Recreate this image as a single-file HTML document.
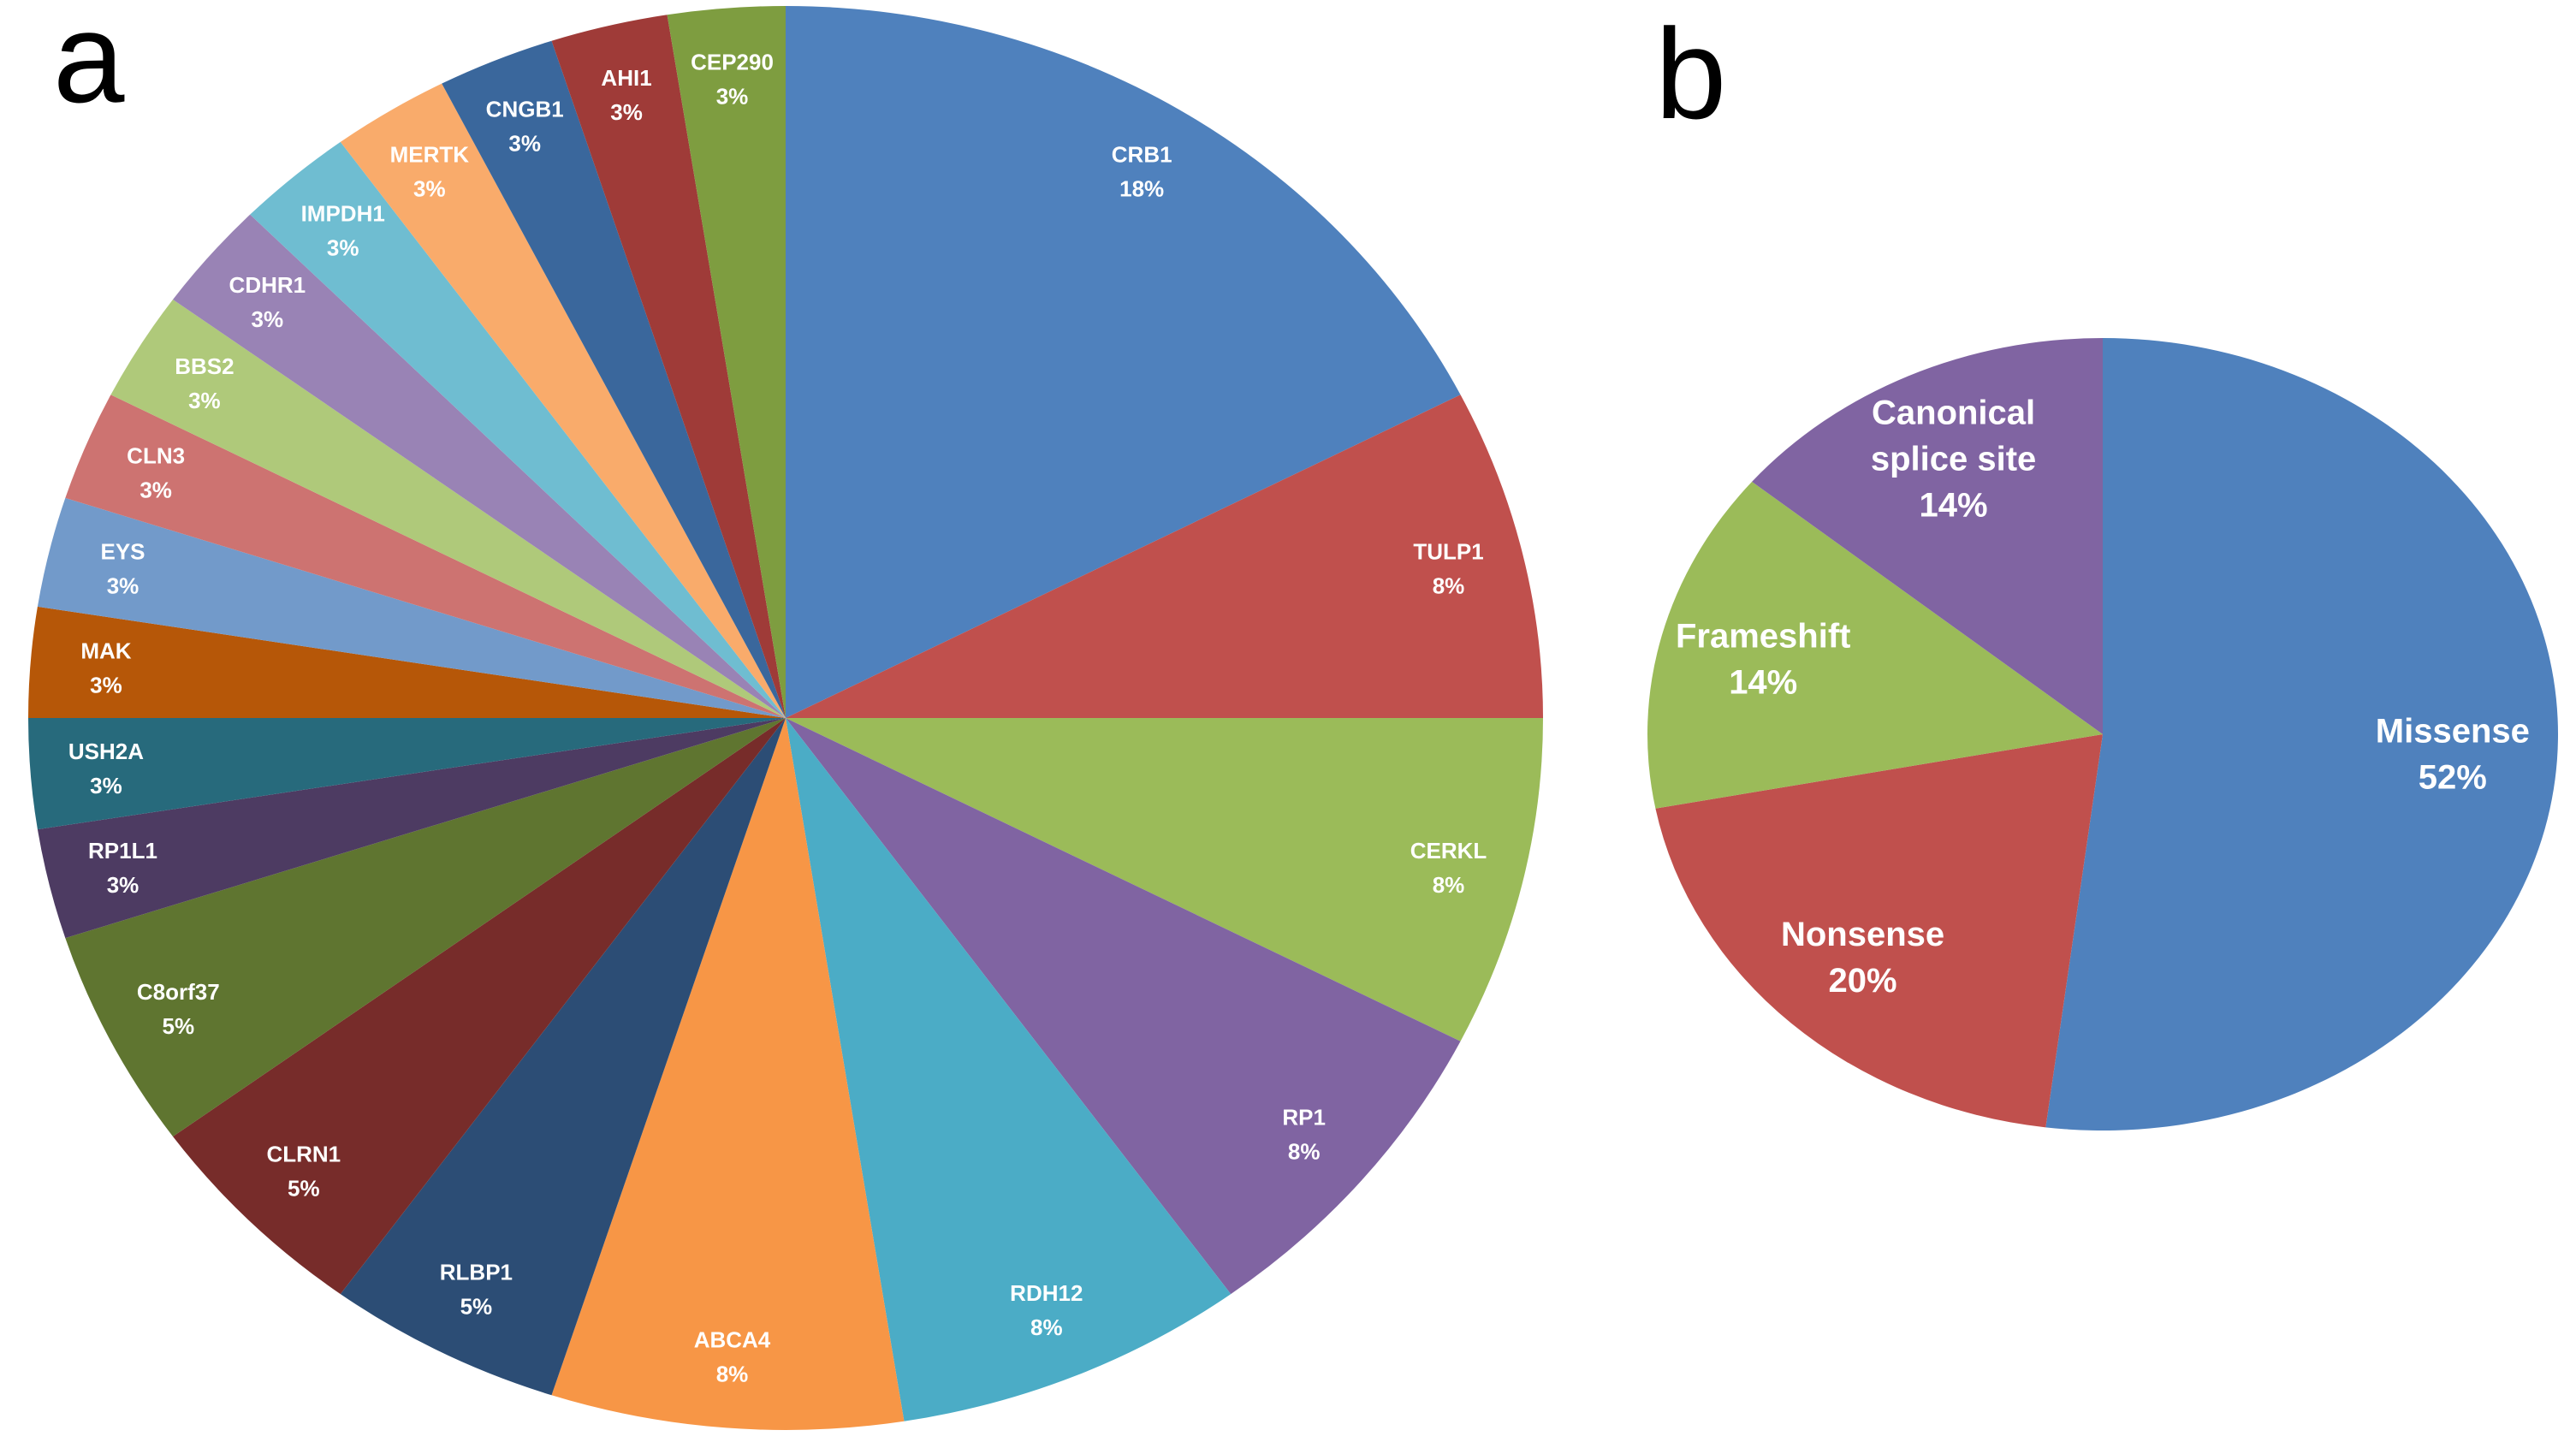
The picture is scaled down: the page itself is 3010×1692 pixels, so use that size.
<!DOCTYPE html>
<html><head><meta charset="utf-8"><style>
html,body{margin:0;padding:0;background:#fff;}
svg{display:block;}
text{font-family:"Liberation Sans",sans-serif;}
</style></head><body>
<svg id="chart" width="3010" height="1692" viewBox="0 0 3010 1692" xmlns="http://www.w3.org/2000/svg">
<text x="62" y="119" font-size="150" fill="#000">a</text>
<text x="1934" y="138" font-size="150" fill="#000">b</text>
<g id="pieA"></g>
<g id="pieB"></g>
</svg>
<script>
const geneNames = ["CRB1","TULP1","CERKL","RP1","RDH12","ABCA4","RLBP1","CLRN1","C8orf37","RP1L1","USH2A","MAK","EYS","CLN3","BBS2","CDHR1","IMPDH1","MERTK","CNGB1","AHI1","CEP290"];
const geneCounts = [7,3,3,3,3,3,2,2,2,1,1,1,1,1,1,1,1,1,1,1,1];
const geneColors = ["#4F81BD","#C0504D","#9BBB59","#8064A2","#4BACC6","#F79646","#2C4D75","#772C2A","#5F7530","#4D3B62","#276A7C","#B65708","#729ACA","#CD7371","#AFC97A","#9983B5","#6FBDD1","#F9AB6B","#3A679C","#9F3B38","#7E9D40"];
const mutNames = [["Missense"],["Nonsense"],["Frameshift"],["Canonical","splice site"]];
const mutValues = [52,20,14,14];
const mutColors = ["#4F81BD","#C0504D","#9BBB59","#8064A2"];
const NS = "http://www.w3.org/2000/svg";
function drawPie(g, vals, names, colors, cx, cy, rx, ry, lr, fs, lh, prefix){
  const tot = vals.reduce((a,b)=>a+b,0);
  let acc = 0;
  vals.forEach((v,i)=>{
    const a0 = acc/tot*2*Math.PI; acc += v; const a1 = acc/tot*2*Math.PI;
    const x0 = cx+rx*Math.sin(a0), y0 = cy-ry*Math.cos(a0);
    const x1 = cx+rx*Math.sin(a1), y1 = cy-ry*Math.cos(a1);
    const large = (a1-a0)>Math.PI?1:0;
    const p = document.createElementNS(NS,"path");
    p.setAttribute("d",`M${cx},${cy}L${x0},${y0}A${rx},${ry} 0 ${large} 1 ${x1},${y1}Z`);
    p.setAttribute("fill",colors[i]);
    
    
    g.appendChild(p);
  });
  acc = 0;
  vals.forEach((v,i)=>{
    const am = (acc+v/2)/tot*2*Math.PI; acc += v;
    const lx = cx+rx*lr*Math.sin(am), ly = cy-ry*lr*Math.cos(am);
    const lines = (Array.isArray(names[i])?names[i]:[names[i]]).concat([Math.round(v/tot*100)+"%"]);
    const t = document.createElementNS(NS,"text");
    t.setAttribute("x",lx); t.setAttribute("text-anchor","middle");
    t.setAttribute("font-size",fs); t.setAttribute("font-weight","bold"); t.setAttribute("fill","#fff");
    
    
    const y0 = ly - (lines.length-1)*lh/2 + fs*0.35;
    lines.forEach((s,k)=>{
      const ts = document.createElementNS(NS,"tspan");
      ts.setAttribute("x",lx); ts.setAttribute("y",y0+k*lh); ts.textContent=s; t.appendChild(ts);
    });
    g.appendChild(t);
  });
}
drawPie(document.getElementById("pieA"), geneCounts, geneNames, geneColors, 918, 839, 885, 832, 0.9, 26, 40);
drawPie(document.getElementById("pieB"), mutValues, mutNames, mutColors, 2457, 858, 532, 463, 0.77, 40, 54);
</script>
</body></html>
